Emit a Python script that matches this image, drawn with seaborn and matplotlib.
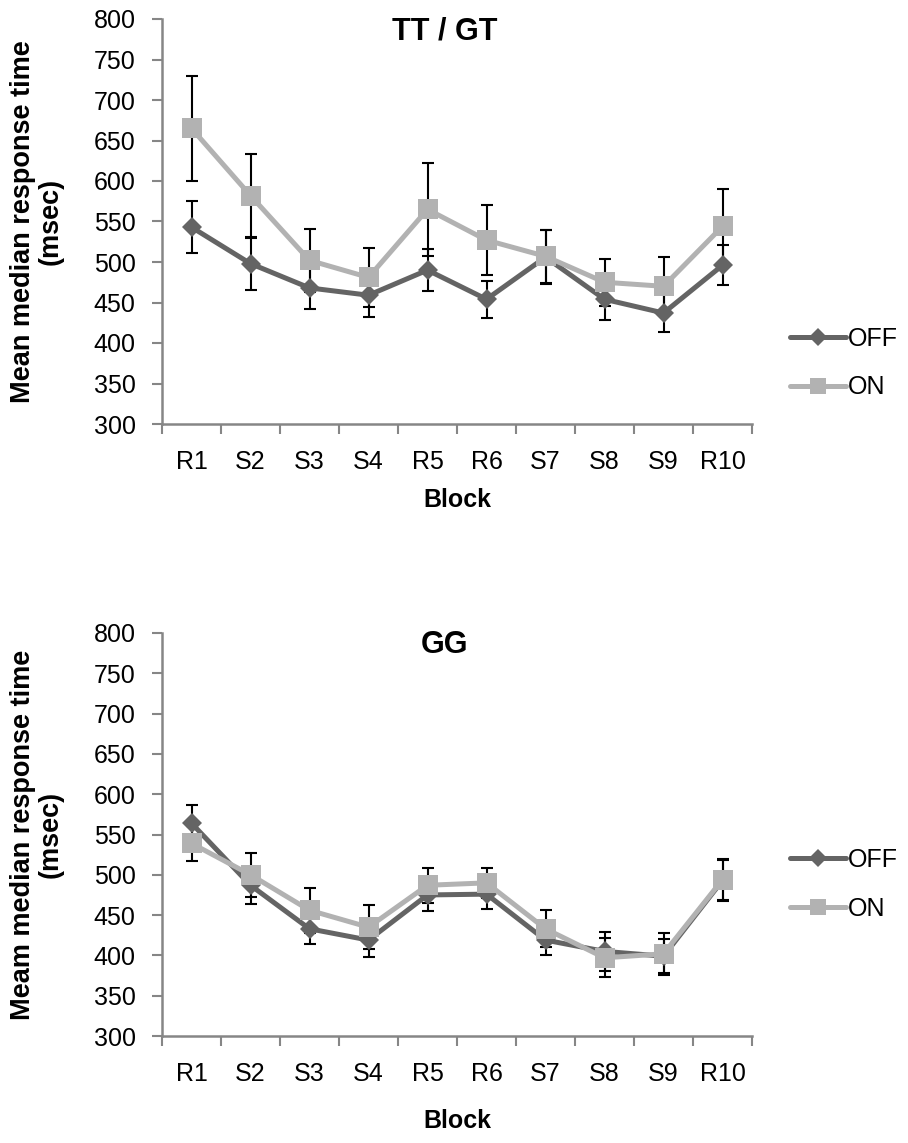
import numpy as np
import pandas as pd
import matplotlib
matplotlib.use("Agg")
import matplotlib.pyplot as plt
from matplotlib.lines import Line2D
import seaborn as sns

# Block labels shared by both panels
blocks = ["R1", "S2", "S3", "S4", "R5", "R6", "S7", "S8", "S9", "R10"]

# TT / GT panel: means and standard errors (msec)
tt_off = [543, 498, 468, 459, 490, 454, 506, 454, 437, 496]
tt_off_err = [32, 32, 26, 27, 26, 23, 33, 26, 24, 25]
tt_on = [665, 582, 502, 481, 565, 527, 507, 475, 470, 544]
tt_on_err = [65, 51, 39, 36, 57, 43, 33, 29, 36, 46]

# GG panel: means and standard errors (msec)
gg_off = [564, 487, 433, 419, 475, 476, 419, 405, 399, 493]
gg_off_err = [23, 23, 19, 21, 20, 18, 19, 24, 21, 25]
gg_on = [539, 500, 456, 435, 487, 490, 433, 397, 402, 494]
gg_on_err = [22, 27, 28, 27, 22, 19, 23, 24, 26, 25]

yticks = list(range(300, 801, 50))

sns.set_theme(style="white")
plt.rcParams["font.family"] = ["Liberation Sans", "DejaVu Sans"]
plt.rcParams["text.color"] = "black"
plt.rcParams["axes.labelcolor"] = "black"

OFF_COLOR = "#646464"
ON_COLOR = "#b2b2b2"
AXIS_GRAY = "#868686"

fig = plt.figure(figsize=(9.08, 11.43), dpi=100)


def panel(rect, off, off_err, on, on_err, title, ylabel, title_y, xlabel_y, legend_y):
    ax = fig.add_axes(rect)
    pos = np.arange(len(blocks))
    df = pd.DataFrame({
        "pos": np.concatenate([pos, pos]),
        "rt": off + on,
        "cond": ["OFF"] * len(off) + ["ON"] * len(on),
    })
    sns.lineplot(data=df, x="pos", y="rt", hue="cond", style="cond",
                 palette={"OFF": OFF_COLOR, "ON": ON_COLOR},
                 markers={"OFF": "D", "ON": "s"}, dashes=False,
                 linewidth=3.6, legend=False, ax=ax, zorder=2)
    series_lines = list(ax.lines)
    for line in series_lines:
        line.set_markeredgewidth(0)
        line.set_markersize(10.2 if line.get_marker() == "D" else 14.5)

    # error bars sit underneath the series lines
    ax.errorbar(pos, off, yerr=off_err, fmt="none", ecolor="black",
                elinewidth=1.5, capsize=4, capthick=1.5, zorder=1)
    ax.errorbar(pos, on, yerr=on_err, fmt="none", ecolor="black",
                elinewidth=1.5, capsize=4, capthick=1.5, zorder=1)

    ax.set_xlim(-0.5, len(blocks) - 0.5)
    ax.set_ylim(300, 800)
    ax.set_yticks(yticks)
    ax.set_yticklabels([str(v) for v in yticks])
    ax.set_xticks(pos)
    ax.set_xticklabels(blocks)
    ax.set_xticks(np.arange(-0.5, len(blocks)), minor=True)
    ax.tick_params(axis="x", which="major", length=0, pad=19, labelsize=18,
                   labelcolor="black")
    ax.tick_params(axis="x", which="minor", length=7, width=1.5,
                   color=AXIS_GRAY, direction="out", bottom=True)
    ax.tick_params(axis="y", length=7, width=1.5, color=AXIS_GRAY,
                   direction="out", left=True, pad=12, labelsize=18,
                   labelcolor="black")
    for side in ["top", "right"]:
        ax.spines[side].set_visible(False)
    for side in ["left", "bottom"]:
        ax.spines[side].set_color(AXIS_GRAY)
        ax.spines[side].set_linewidth(1.8)
    ax.grid(False)

    ax.set_xlabel("Block", fontsize=18, fontweight="bold", color="black")
    ax.xaxis.set_label_coords(0.5, xlabel_y)
    ax.xaxis.label.set_verticalalignment("center")
    ax.set_ylabel("")
    fig.text(37 / 908, rect[1] + rect[3] / 2, ylabel, rotation=90,
             ha="center", va="center", multialignment="center",
             fontsize=19.5, fontweight="bold", linespacing=1.05,
             color="black")
    fig.text(445 / 908, title_y, title, ha="center", va="center",
             fontsize=22, fontweight="bold", color="black")

    handles = [
        Line2D([], [], color=OFF_COLOR, lw=3.6, marker="D", markersize=9,
               markeredgewidth=0),
        Line2D([], [], color=ON_COLOR, lw=3.6, marker="s", markersize=12,
               markeredgewidth=0),
    ]
    ax.legend(handles, ["OFF", "ON"], loc="center left",
              bbox_to_anchor=(790 / 908, legend_y),
              bbox_transform=fig.transFigure, frameon=False, fontsize=18,
              handlelength=2.25, handletextpad=0.05, labelspacing=1.0,
              borderpad=0, borderaxespad=0, labelcolor="black")
    return ax


panel([162 / 908, 1 - 424 / 1143, 590 / 908, 405 / 1143],
      tt_off, tt_off_err, tt_on, tt_on_err,
      "TT / GT", "Mean median response time\n(msec)",
      1 - 32 / 1143, (424 - 500) / 405, 1 - 363 / 1143)

panel([162 / 908, 1 - 1036 / 1143, 590 / 908, 403 / 1143],
      gg_off, gg_off_err, gg_on, gg_on_err,
      "GG", "Meam median response time\n(msec)",
      1 - 645 / 1143, (1036 - 1121) / 403, 1 - 884.5 / 1143)

fig.savefig("out.png", dpi=100, facecolor="white")
